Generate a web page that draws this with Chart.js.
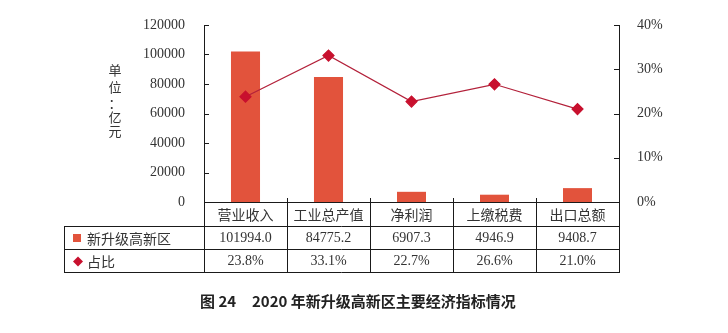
<!DOCTYPE html>
<html>
<head>
<meta charset="utf-8">
<script src="https://cdn.jsdelivr.net/npm/chart.js@4.4.1/dist/chart.umd.min.js"></script>
<style>
  html, body { margin: 0; padding: 0; background: #fff; }
  #wrap { width: 728px; height: 333px; position: relative; }
</style>
</head>
<body>
<div id="wrap"><canvas id="chart" width="728" height="333"></canvas></div>
<script>
// chart data
const categories = ['营业收入', '工业总产值', '净利润', '上缴税费', '出口总额'];
const barValues = [101994.0, 84775.2, 6907.3, 4946.9, 9408.7];
const shareValues = [23.8, 33.1, 22.7, 26.6, 21.0];
const barLabel = '新升级高新区';
const lineLabel = '占比';
const unitLabel = ['单', '位', '：', '亿', '元'];
const figNo = '图 24';
const figTitle = '2020 年新升级高新区主要经济指标情况';

const barColor = '#e2533c';
const lineColor = '#b3213a';
const markColor = '#c8102e';
const serif = '"Liberation Serif", "DejaVu Serif", serif';
const cjk = '"Noto Sans CJK SC", "Noto Sans", sans-serif';

// ticks inside the plot, data table under the x axis, unit label and caption
const extrasPlugin = {
  id: 'extras',
  afterDraw(chart) {
    const ctx = chart.ctx;
    const area = chart.chartArea;
    const x = chart.scales.x;
    const y = chart.scales.y;
    const y1 = chart.scales.y1;
    const tableLeft = 64;
    const rows = [area.bottom, 226, 249, 272];
    const half = (x.getPixelForValue(1) - x.getPixelForValue(0)) / 2;

    ctx.save();
    ctx.strokeStyle = '#1a1a1a';
    ctx.lineWidth = 1;
    ctx.beginPath();
    y.ticks.forEach(t => {
      const py = Math.round(y.getPixelForValue(t.value)) + 0.5;
      ctx.moveTo(area.left, py); ctx.lineTo(area.left + 5, py);
    });
    y1.ticks.forEach(t => {
      const py = Math.round(y1.getPixelForValue(t.value)) + 0.5;
      ctx.moveTo(area.right, py); ctx.lineTo(area.right - 5, py);
    });
    // table grid
    for (let i = 1; i < rows.length; i++) {
      ctx.moveTo(tableLeft, rows[i] + 0.5); ctx.lineTo(area.right, rows[i] + 0.5);
    }
    ctx.moveTo(tableLeft + 0.5, rows[1]); ctx.lineTo(tableLeft + 0.5, rows[3] + 1);
    ctx.moveTo(area.left + 0.5, rows[0]); ctx.lineTo(area.left + 0.5, rows[3] + 1);
    ctx.moveTo(area.right + 0.5, rows[0]); ctx.lineTo(area.right + 0.5, rows[3] + 1);
    for (let i = 1; i < categories.length; i++) {
      const px = Math.round(x.getPixelForValue(i) - half) + 0.5;
      ctx.moveTo(px, rows[0] - 4); ctx.lineTo(px, rows[3] + 1);
    }
    ctx.stroke();

    // table text
    ctx.fillStyle = '#333';
    ctx.textAlign = 'center';
    ctx.textBaseline = 'middle';
    categories.forEach((c, i) => {
      const cx = x.getPixelForValue(i);
      ctx.font = '14px ' + cjk;
      ctx.fillText(c, cx, (rows[0] + rows[1]) / 2 + 1);
      ctx.font = '14px ' + serif;
      ctx.fillText(barValues[i].toFixed(1), cx, (rows[1] + rows[2]) / 2 + 1);
      ctx.fillText(shareValues[i].toFixed(1) + '%', cx, (rows[2] + rows[3]) / 2 + 1);
    });
    ctx.textAlign = 'left';
    ctx.font = '14px ' + cjk;
    ctx.fillText(barLabel, 87, (rows[1] + rows[2]) / 2 + 1);
    ctx.fillText(lineLabel, 87, (rows[2] + rows[3]) / 2 + 1);
    ctx.fillStyle = barColor;
    ctx.fillRect(73, (rows[1] + rows[2]) / 2 - 3.5, 8, 8);
    ctx.fillStyle = markColor;
    const dy = (rows[2] + rows[3]) / 2 + 1;
    ctx.beginPath();
    ctx.moveTo(78, dy - 5); ctx.lineTo(83, dy); ctx.lineTo(78, dy + 5); ctx.lineTo(73, dy);
    ctx.closePath();
    ctx.fill();

    // unit label, one character per line
    ctx.fillStyle = '#333';
    ctx.textAlign = 'center';
    ctx.font = '13px ' + cjk;
    const unitY = [70, 87, 103, 117, 131];
    unitLabel.forEach((ch, i) => ctx.fillText(ch, 115, unitY[i]));

    // caption
    ctx.fillStyle = '#222';
    ctx.font = 'bold 15px ' + cjk;
    ctx.textAlign = 'left';
    ctx.fillText(figNo, 200, 301);
    ctx.fillText(figTitle, 252, 301);
    ctx.restore();
  }
};

new Chart(document.getElementById('chart'), {
  data: {
    labels: categories,
    datasets: [
      {
        type: 'line',
        label: lineLabel,
        data: shareValues,
        yAxisID: 'y1',
        borderColor: lineColor,
        borderWidth: 1.2,
        pointStyle: 'rectRot',
        pointRadius: 5.5,
        pointBackgroundColor: markColor,
        pointBorderColor: markColor,
        order: 0
      },
      {
        type: 'bar',
        label: barLabel,
        data: barValues,
        yAxisID: 'y',
        backgroundColor: barColor,
        categoryPercentage: 1,
        barPercentage: 0.35,
        order: 1
      }
    ]
  },
  options: {
    responsive: false,
    animation: false,
    layout: { padding: { top: 25, left: 0, right: 0, bottom: 0 } },
    plugins: {
      legend: { display: false },
      tooltip: { enabled: false }
    },
    scales: {
      x: {
        grid: { display: false },
        border: { display: true, color: '#1a1a1a', width: 1 },
        ticks: { display: false },
        afterFit: s => { s.height = 131; }
      },
      y: {
        position: 'left',
        min: 0,
        max: 120000,
        ticks: { stepSize: 20000, padding: 11, color: '#333', font: { family: serif, size: 14 }, callback: v => String(v) },
        grid: { display: false },
        border: { display: true, color: '#1a1a1a', width: 1 },
        afterFit: s => { s.width = 204; }
      },
      y1: {
        position: 'right',
        min: 0,
        max: 40,
        ticks: { stepSize: 10, padding: 10, color: '#333', font: { family: serif, size: 14 }, callback: v => v + '%' },
        grid: { display: false },
        border: { display: true, color: '#1a1a1a', width: 1 },
        afterFit: s => { s.width = 109; }
      }
    }
  },
  plugins: [extrasPlugin]
});
</script>
</body>
</html>
